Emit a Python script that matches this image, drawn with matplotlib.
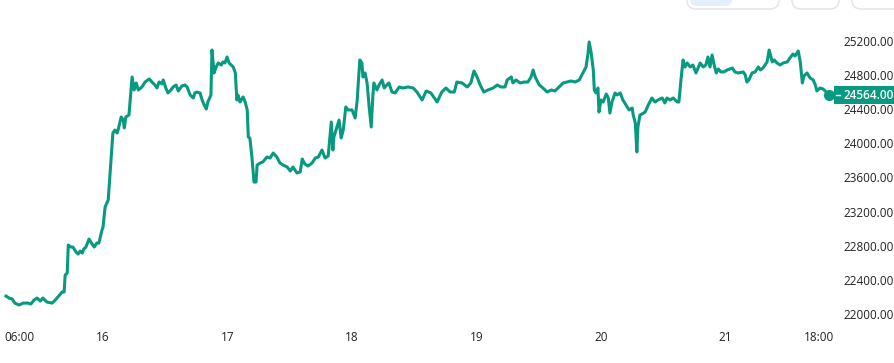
import matplotlib
matplotlib.use('Agg')
from matplotlib import pyplot as plt
from matplotlib.patches import FancyBboxPatch, Rectangle
import matplotlib.transforms as mtransforms

# hours since 15th 00:00
hours = [5.3, 5.9, 6.5, 7.0, 7.8, 8.6, 9.5, 10.1, 10.7, 11.3, 11.9, 12.4, 13.2, 14.2, 14.8, 15.3,
         16.1, 16.5, 16.7, 17.1, 17.3, 17.8, 18.2, 18.8, 19.2, 19.6, 20.0, 20.3, 20.7, 21.3, 21.9,
         22.3, 22.8, 23.2, 23.8, 24.0, 24.4, 25.0, 25.4, 25.9, 26.3, 26.7, 26.9, 27.5, 27.9, 28.1,
         28.4, 29.0, 29.6, 30.0, 30.4, 30.8, 31.5, 32.1, 32.9, 33.6, 34.0, 34.4, 34.8, 35.4, 35.6,
         36.1, 36.5, 37.1, 37.5, 38.1, 38.5, 39.2, 39.8, 40.2, 40.8, 41.4, 41.7, 42.1, 42.7, 43.1,
         43.5, 43.9, 44.2, 44.8, 45.0, 45.4, 45.8, 46.2, 46.8, 47.1, 47.5, 47.9, 48.3, 49.1, 49.5,
         49.8, 50.0, 50.4, 51.0, 51.4, 51.8, 52.0, 52.3, 52.7, 53.1, 53.5, 53.7, 54.3, 54.8, 55.6,
         56.2, 56.8, 57.5, 58.1, 58.7, 59.5, 60.1, 60.6, 61.4, 62.0, 62.4, 62.9, 63.5, 64.3, 64.9,
         65.5, 66.2, 66.8, 67.4, 68.0, 68.3, 68.5, 69.1, 69.5, 69.9, 70.3, 70.8, 71.2, 72.0, 72.6,
         73.0, 73.2, 73.5, 73.9, 74.1, 74.5, 74.9, 75.3, 75.7, 76.0, 76.2, 76.8, 77.2, 77.8, 78.2,
         78.7, 79.1, 79.7, 80.3, 81.1, 81.8, 82.8, 83.8, 84.5, 85.5, 86.3, 87.2, 88.4, 89.3, 90.1,
         90.9, 91.7, 92.2, 93.2, 94.2, 94.9, 95.5, 96.1, 96.7, 97.4, 98.2, 99.2, 100.0, 100.7,
         101.5, 101.9, 102.7, 103.0, 103.6, 104.4, 105.2, 105.9, 106.5, 106.9, 107.3, 108.1, 108.8,
         109.6, 110.4, 111.1, 111.9, 112.7, 113.4, 114.2, 115.0, 115.8, 116.5, 117.1, 117.5, 117.7,
         118.1, 118.5, 118.7, 119.0, 119.4, 119.6, 120.0, 120.4, 121.0, 121.4, 121.7, 122.1, 122.7,
         123.1, 123.7, 124.2, 124.8, 125.4, 126.0, 126.2, 126.6, 126.9, 127.1, 127.5, 127.9, 128.5,
         129.1, 129.8, 130.4, 131.0, 131.8, 132.3, 132.7, 133.3, 133.9, 134.7, 135.0, 135.4, 135.8,
         136.2, 136.6, 137.2, 137.7, 138.3, 139.1, 139.7, 140.2, 140.6, 141.0, 141.4, 141.8, 142.2,
         142.6, 143.1, 143.7, 144.3, 145.3, 145.8, 146.4, 147.4, 147.8, 148.1, 148.5, 149.1, 149.7,
         150.3, 150.7, 151.2, 151.6, 152.0, 152.4, 153.0, 153.4, 153.9, 154.5, 155.1, 155.9, 156.4,
         157.0, 157.4, 158.0, 158.4, 158.8, 159.1, 159.7, 160.3, 160.9, 161.3, 161.6, 162.2, 162.8,
         163.4, 164.0]

prices = [22210, 22187, 22175, 22128, 22105, 22128, 22128, 22117, 22164, 22187, 22152, 22187, 22140,
          22128, 22164, 22199, 22257, 22257, 22456, 22480, 22808, 22784, 22784, 22726, 22702, 22737,
          22714, 22761, 22784, 22878, 22819, 22784, 22831, 22831, 22983, 23018, 23253, 23335, 23686,
          24119, 24154, 24119, 24154, 24307, 24271, 24178, 24307, 24330, 24775, 24623, 24705, 24623,
          24658, 24716, 24752, 24705, 24681, 24646, 24716, 24693, 24740, 24646, 24588, 24623, 24658,
          24681, 24611, 24670, 24681, 24658, 24564, 24529, 24588, 24599, 24588, 24506, 24447, 24400,
          24482, 24564, 25091, 24822, 24892, 24939, 24915, 24951, 24939, 25009, 24939, 24892, 24822,
          24506, 24564, 24482, 24541, 24482, 24389, 24072, 24061, 23838, 23545, 23545, 23744, 23768,
          23780, 23838, 23826, 23885, 23838, 23768, 23744, 23721, 23674, 23721, 23651, 23663, 23815,
          23756, 23733, 23768, 23826, 23838, 23920, 23826, 23850, 24248, 23920, 24072, 24189, 24271,
          24061, 24154, 24424, 24389, 24389, 24295, 24506, 24705, 24974, 24939, 24775, 24822, 24705,
          24424, 24189, 24541, 24705, 24623, 24681, 24740, 24646, 24681, 24705, 24599, 24588, 24658,
          24646, 24658, 24646, 24599, 24506, 24611, 24588, 24482, 24599, 24646, 24599, 24599, 24716,
          24705, 24658, 24705, 24845, 24775, 24681, 24599, 24623, 24646, 24681, 24658, 24658, 24740,
          24775, 24705, 24740, 24705, 24716, 24716, 24775, 24857, 24775, 24681, 24646, 24599, 24623,
          24611, 24658, 24705, 24716, 24728, 24716, 24740, 24822, 24892, 25056, 25185, 25056, 24857,
          24623, 24588, 24646, 24365, 24506, 24482, 24576, 24529, 24353, 24482, 24588, 24564, 24588,
          24506, 24447, 24389, 24412, 24330, 24236, 23897, 24189, 24330, 24342, 24365, 24447, 24529,
          24482, 24506, 24529, 24471, 24529, 24506, 24529, 24482, 24482, 24740, 24974, 24892, 24939,
          24892, 24915, 24822, 24939, 24892, 24915, 25009, 24892, 25033, 24915, 24822, 24869, 24834,
          24834, 24857, 24880, 24834, 24822, 24834, 24798, 24716, 24740, 24822, 24834, 24892, 24857,
          24880, 24915, 24951, 25091, 24951, 24974, 24939, 24915, 24939, 24951, 24997, 25044, 25021,
          25079, 24951, 24705, 24787, 24822, 24763, 24740, 24681, 24611, 24646, 24634, 24599, 24564]

x_ticks = [6, 24, 48, 72, 96, 120, 144, 162]
x_labels = ['06:00', '16', '17', '18', '19', '20', '21', '18:00']
y_ticks = [22000, 22400, 22800, 23200, 23600, 24000, 24400, 24800, 25200]
last_price = 24564

GREEN = '#089981'
TEXT = '#222222'


def draw_buttons(fig):
    px = mtransforms.IdentityTransform()
    for x0, w in [(687, 92), (792, 47), (852, 62)]:
        fig.patches.append(FancyBboxPatch((x0, 354), w, 20, boxstyle='round,pad=0,rounding_size=9',
                                          transform=px, fc='white', ec='#e0e3eb', lw=1))
    fig.patches.append(FancyBboxPatch((690, 357), 42, 16, boxstyle='round,pad=0,rounding_size=7',
                                      transform=px, fc='#e3effd', ec='none'))


def main():
    plt.rcParams['font.family'] = ['Open Sans', 'DejaVu Sans']
    fig = plt.figure(figsize=(8.95, 3.63), dpi=100)
    ax = fig.add_axes([0, 43 / 363, 834 / 895, 290 / 363])

    ax.plot(hours, prices, color=GREEN, lw=2.2, solid_joinstyle='round')
    ax.plot(hours[-1], prices[-1], 'o', color=GREEN, ms=7)

    ax.set_xlim(4.14, 164.9)
    ax.set_ylim(21930, 25325)
    for s in ax.spines.values():
        s.set_visible(False)

    ax.yaxis.tick_right()
    ax.set_yticks(y_ticks)
    ax.set_yticklabels([f'{v:.2f}' for v in y_ticks])
    ax.tick_params(axis='y', length=0, pad=6.5, labelsize=8.5, labelcolor=TEXT)

    ax.set_xticks(x_ticks)
    ax.set_xticklabels(x_labels)
    ax.tick_params(axis='x', length=0, pad=8, labelsize=8.5, labelcolor=TEXT)
    first = ax.get_xticklabels()[0]
    first.set_horizontalalignment('left')
    first.set_transform(first.get_transform() + mtransforms.ScaledTranslation(-5 / 100, 0, fig.dpi_scale_trans))

    # last price tag on the right axis
    trans = mtransforms.blended_transform_factory(ax.transAxes, ax.transData)
    ax.add_patch(Rectangle((1.0, last_price - 100), 61 / 834, 200, transform=trans,
                           fc=GREEN, ec='none', clip_on=False, zorder=4))
    ax.annotate(f'{last_price:.2f}', xy=(1.0, last_price), xycoords=trans, xytext=(6.5, 0),
                textcoords='offset points', ha='left', va='center', fontsize=8.5,
                fontweight='semibold', color='white', annotation_clip=False, zorder=6)
    ax.plot([1.0025, 1.0075], [last_price, last_price], transform=trans, color='white',
            lw=1, clip_on=False, zorder=5)

    draw_buttons(fig)
    plt.savefig('out.png', dpi=100)


if __name__ == '__main__':
    main()
